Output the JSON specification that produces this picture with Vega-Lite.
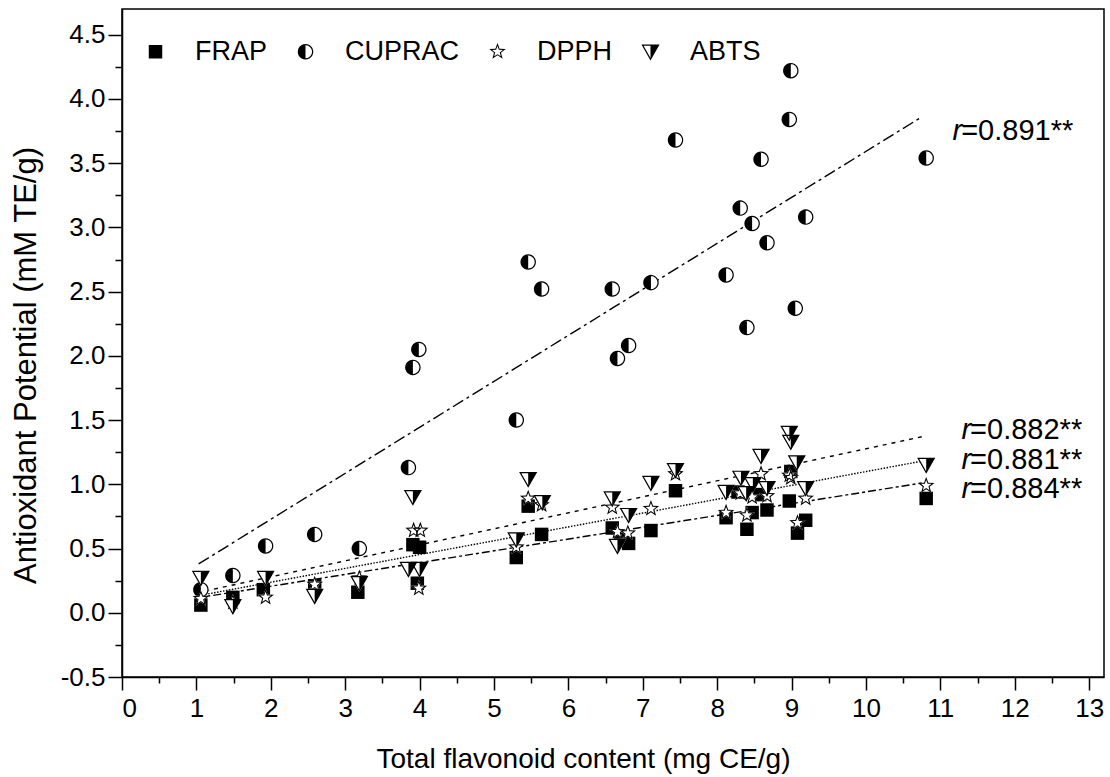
{
  "$schema": "https://vega.github.io/schema/vega-lite/v6.json",
  "width": 982,
  "height": 668,
  "autosize": {"type": "none"},
  "padding": {"left": 122, "top": 9, "right": 6, "bottom": 100},
  "background": "white",
  "config": {
    "view": {"stroke": "black", "strokeWidth": 1.5},
    "font": "Liberation Sans",
    "axis": {"grid": false, "domainColor": "black", "domainWidth": 1.5, "tickColor": "black", "tickWidth": 1.5, "labelColor": "black", "titleColor": "black", "labelFont": "Liberation Sans", "titleFont": "Liberation Sans", "titleFontWeight": "normal"},
    "legend": {"labelFontSize": 27, "labelFont": "Liberation Sans", "labelColor": "black", "symbolSize": 210, "symbolFillColor": "black", "symbolStrokeWidth": 0, "symbolOpacity": 1, "labelOffset": 26, "columnPadding": 24, "padding": 0, "labelLimit": 300}
  },
  "datasets": {
    "points": [
      {"series": "FRAP", "x": 1.06, "y": 0.06}, {"series": "FRAP", "x": 1.49, "y": 0.12}, {"series": "FRAP", "x": 1.90, "y": 0.18}, {"series": "FRAP", "x": 2.59, "y": 0.21}, {"series": "FRAP", "x": 3.17, "y": 0.16}, {"series": "FRAP", "x": 3.91, "y": 0.53}, {"series": "FRAP", "x": 4.00, "y": 0.51}, {"series": "FRAP", "x": 3.97, "y": 0.23}, {"series": "FRAP", "x": 5.30, "y": 0.43}, {"series": "FRAP", "x": 5.46, "y": 0.83}, {"series": "FRAP", "x": 5.64, "y": 0.61}, {"series": "FRAP", "x": 6.59, "y": 0.66}, {"series": "FRAP", "x": 6.70, "y": 0.57}, {"series": "FRAP", "x": 6.81, "y": 0.54}, {"series": "FRAP", "x": 7.11, "y": 0.64}, {"series": "FRAP", "x": 7.44, "y": 0.95}, {"series": "FRAP", "x": 8.12, "y": 0.74}, {"series": "FRAP", "x": 8.28, "y": 0.94}, {"series": "FRAP", "x": 8.40, "y": 0.65}, {"series": "FRAP", "x": 8.47, "y": 0.78}, {"series": "FRAP", "x": 8.57, "y": 0.92}, {"series": "FRAP", "x": 8.67, "y": 0.80}, {"series": "FRAP", "x": 8.97, "y": 0.87}, {"series": "FRAP", "x": 8.99, "y": 1.10}, {"series": "FRAP", "x": 9.08, "y": 0.62}, {"series": "FRAP", "x": 9.19, "y": 0.72}, {"series": "FRAP", "x": 10.81, "y": 0.89},
      {"series": "CUPRAC", "x": 1.06, "y": 0.18}, {"series": "CUPRAC", "x": 1.49, "y": 0.29}, {"series": "CUPRAC", "x": 1.93, "y": 0.52}, {"series": "CUPRAC", "x": 2.59, "y": 0.61}, {"series": "CUPRAC", "x": 3.19, "y": 0.50}, {"series": "CUPRAC", "x": 3.85, "y": 1.13}, {"series": "CUPRAC", "x": 3.91, "y": 1.91}, {"series": "CUPRAC", "x": 3.99, "y": 2.05}, {"series": "CUPRAC", "x": 5.30, "y": 1.50}, {"series": "CUPRAC", "x": 5.46, "y": 2.73}, {"series": "CUPRAC", "x": 5.64, "y": 2.52}, {"series": "CUPRAC", "x": 6.59, "y": 2.52}, {"series": "CUPRAC", "x": 6.66, "y": 1.98}, {"series": "CUPRAC", "x": 6.81, "y": 2.08}, {"series": "CUPRAC", "x": 7.11, "y": 2.57}, {"series": "CUPRAC", "x": 7.44, "y": 3.68}, {"series": "CUPRAC", "x": 8.12, "y": 2.63}, {"series": "CUPRAC", "x": 8.31, "y": 3.15}, {"series": "CUPRAC", "x": 8.40, "y": 2.22}, {"series": "CUPRAC", "x": 8.47, "y": 3.03}, {"series": "CUPRAC", "x": 8.59, "y": 3.53}, {"series": "CUPRAC", "x": 8.67, "y": 2.88}, {"series": "CUPRAC", "x": 8.97, "y": 3.84}, {"series": "CUPRAC", "x": 8.99, "y": 4.22}, {"series": "CUPRAC", "x": 9.05, "y": 2.37}, {"series": "CUPRAC", "x": 9.19, "y": 3.08}, {"series": "CUPRAC", "x": 10.81, "y": 3.54},
      {"series": "DPPH", "x": 1.06, "y": 0.11}, {"series": "DPPH", "x": 1.49, "y": 0.08}, {"series": "DPPH", "x": 1.93, "y": 0.12}, {"series": "DPPH", "x": 2.59, "y": 0.22}, {"series": "DPPH", "x": 3.19, "y": 0.27}, {"series": "DPPH", "x": 3.92, "y": 0.64}, {"series": "DPPH", "x": 4.01, "y": 0.64}, {"series": "DPPH", "x": 3.99, "y": 0.19}, {"series": "DPPH", "x": 5.30, "y": 0.51}, {"series": "DPPH", "x": 5.46, "y": 0.89}, {"series": "DPPH", "x": 5.64, "y": 0.84}, {"series": "DPPH", "x": 6.59, "y": 0.82}, {"series": "DPPH", "x": 6.66, "y": 0.63}, {"series": "DPPH", "x": 6.80, "y": 0.62}, {"series": "DPPH", "x": 7.11, "y": 0.81}, {"series": "DPPH", "x": 7.44, "y": 1.08}, {"series": "DPPH", "x": 8.12, "y": 0.78}, {"series": "DPPH", "x": 8.31, "y": 0.93}, {"series": "DPPH", "x": 8.40, "y": 0.76}, {"series": "DPPH", "x": 8.47, "y": 0.90}, {"series": "DPPH", "x": 8.59, "y": 1.08}, {"series": "DPPH", "x": 8.67, "y": 0.91}, {"series": "DPPH", "x": 8.97, "y": 1.07}, {"series": "DPPH", "x": 8.99, "y": 1.05}, {"series": "DPPH", "x": 9.08, "y": 0.70}, {"series": "DPPH", "x": 9.19, "y": 0.89}, {"series": "DPPH", "x": 10.81, "y": 0.99},
      {"series": "ABTS", "x": 1.06, "y": 0.27}, {"series": "ABTS", "x": 1.49, "y": 0.05}, {"series": "ABTS", "x": 1.93, "y": 0.27}, {"series": "ABTS", "x": 2.59, "y": 0.13}, {"series": "ABTS", "x": 3.19, "y": 0.23}, {"series": "ABTS", "x": 3.85, "y": 0.34}, {"series": "ABTS", "x": 3.91, "y": 0.90}, {"series": "ABTS", "x": 4.00, "y": 0.34}, {"series": "ABTS", "x": 5.30, "y": 0.57}, {"series": "ABTS", "x": 5.46, "y": 1.04}, {"series": "ABTS", "x": 5.65, "y": 0.86}, {"series": "ABTS", "x": 6.59, "y": 0.89}, {"series": "ABTS", "x": 6.66, "y": 0.52}, {"series": "ABTS", "x": 6.81, "y": 0.76}, {"series": "ABTS", "x": 7.11, "y": 1.01}, {"series": "ABTS", "x": 7.44, "y": 1.11}, {"series": "ABTS", "x": 8.12, "y": 0.94}, {"series": "ABTS", "x": 8.32, "y": 1.05}, {"series": "ABTS", "x": 8.39, "y": 0.93}, {"series": "ABTS", "x": 8.48, "y": 1.00}, {"series": "ABTS", "x": 8.59, "y": 1.22}, {"series": "ABTS", "x": 8.67, "y": 0.97}, {"series": "ABTS", "x": 8.97, "y": 1.40}, {"series": "ABTS", "x": 8.99, "y": 1.33}, {"series": "ABTS", "x": 9.07, "y": 1.17}, {"series": "ABTS", "x": 9.19, "y": 0.97}, {"series": "ABTS", "x": 10.81, "y": 1.15}
    ],
    "fits": [
      {"fit": "CUPRAC fit", "x": 1.03, "y": 0.38}, {"fit": "CUPRAC fit", "x": 10.75, "y": 3.86},
      {"fit": "ABTS fit", "x": 1.0, "y": 0.155}, {"fit": "ABTS fit", "x": 10.75, "y": 1.37},
      {"fit": "DPPH fit", "x": 1.0, "y": 0.13}, {"fit": "DPPH fit", "x": 10.75, "y": 1.18},
      {"fit": "FRAP fit", "x": 1.0, "y": 0.115}, {"fit": "FRAP fit", "x": 10.75, "y": 1.01}
    ],
    "labels": [
      {"x": 11.28, "y": 3.68, "text": "=0.891**"},
      {"x": 11.40, "y": 1.35, "text": "=0.882**"},
      {"x": 11.40, "y": 1.12, "text": "=0.881**"},
      {"x": 11.40, "y": 0.89, "text": "=0.884**"}
    ]
  },
  "resolve": {"axis": {"x": "independent", "y": "independent"}},
  "layer": [
    {
      "data": {"name": "fits"},
      "mark": {"type": "line", "color": "black", "strokeWidth": 1.4},
      "encoding": {
        "x": {"field": "x", "type": "quantitative", "scale": {"domain": [0, 13.2], "nice": false, "zero": false}, "axis": null},
        "y": {"field": "y", "type": "quantitative", "scale": {"domain": [-0.5, 4.7], "nice": false, "zero": false}, "axis": null},
        "strokeDash": {"field": "fit", "type": "nominal", "scale": {"domain": ["FRAP fit", "CUPRAC fit", "DPPH fit", "ABTS fit"], "range": [[8, 3, 3, 3], [12, 4, 3, 4], [1.5, 1.5], [4, 5]]}, "legend": null}
      }
    },
    {
      "data": {"name": "points"},
      "transform": [{"filter": "datum.series === 'FRAP'"}],
      "mark": {"type": "point", "filled": true, "fill": "black", "strokeWidth": 0, "size": 210, "opacity": 1},
      "encoding": {
        "x": {"field": "x", "type": "quantitative", "scale": {"domain": [0, 13.2], "nice": false, "zero": false},
          "axis": {"orient": "bottom", "values": [0, 1, 2, 3, 4, 5, 6, 7, 8, 9, 10, 11, 12, 13], "format": "d", "tickSize": 13, "labelFontSize": 26, "labelPadding": 5, "title": "Total flavonoid content (mg CE/g)", "titleFontSize": 28, "titleX": 461, "titleY": 82, "titleBaseline": "middle", "titleAlign": "center"}},
        "y": {"field": "y", "type": "quantitative", "scale": {"domain": [-0.5, 4.7], "nice": false, "zero": false},
          "axis": {"orient": "left", "values": [-0.5, 0, 0.5, 1, 1.5, 2, 2.5, 3, 3.5, 4, 4.5], "labelExpr": "datum.value < 0 ? '-' + format(-datum.value, '.1f') : format(datum.value, '.1f')", "tickSize": 14, "labelFontSize": 26, "labelPadding": 3, "title": "Antioxidant Potential (mM TE/g)", "titleFontSize": 31, "titleAngle": -90, "titleX": -96, "titleY": 356, "titleBaseline": "middle", "titleAlign": "center"}},
        "shape": {"field": "series", "type": "nominal",
          "scale": {"domain": ["FRAP", "CUPRAC", "DPPH", "ABTS"], "range": [
            "M-0.93,-0.93L0.93,-0.93L0.93,0.93L-0.93,0.93Z",
            "M1.07,0L1.034,0.277L0.927,0.535L0.757,0.757L0.535,0.927L0.277,1.034L0,1.07L-0.277,1.034L-0.535,0.927L-0.757,0.757L-0.927,0.535L-1.034,0.277L-1.07,0L-1.034,-0.277L-0.927,-0.535L-0.757,-0.757L-0.535,-0.927L-0.277,-1.034L0,-1.07L0.277,-1.034L0.535,-0.927L0.757,-0.757L0.927,-0.535L1.034,-0.277ZM0.9,0L0.869,-0.233L0.779,-0.45L0.636,-0.636L0.45,-0.779L0.233,-0.869L0,-0.9L-0.233,-0.869L-0.45,-0.779L-0.636,-0.636L-0.779,-0.45L-0.869,-0.233L-0.9,0L-0.869,0.233L-0.779,0.45L-0.636,0.636L-0.45,0.779L-0.233,0.869L0,0.9L0.233,0.869L0.45,0.779L0.636,0.636L0.779,0.45L0.869,0.233ZM0,1.07L-0.277,1.034L-0.535,0.927L-0.757,0.757L-0.927,0.535L-1.034,0.277L-1.07,0L-1.034,-0.277L-0.927,-0.535L-0.757,-0.757L-0.535,-0.927L-0.277,-1.034L0,-1.07Z",
            "M0,-1.2L0.294,-0.405L1.141,-0.371L0.476,0.155L0.705,0.971L0,0.5L-0.705,0.971L-0.476,0.155L-1.141,-0.371L-0.294,-0.405ZM0,-0.78L-0.194,-0.267L-0.742,-0.241L-0.314,0.102L-0.458,0.631L0,0.33L0.458,0.631L0.314,0.102L0.742,-0.241L0.194,-0.267Z",
            "M-1.25,-1L1.25,-1L0,1.2ZM-0.958,-0.83L0,0.856L0.958,-0.83ZM0,-1L1.25,-1L0,1.2Z"]},
          "legend": {"orient": "none", "legendX": 20, "legendY": 29, "direction": "horizontal", "title": null}}
      }
    },
    {
      "data": {"name": "points"},
      "transform": [{"filter": "datum.series === 'CUPRAC'"}],
      "mark": {"type": "point", "shape": "M1.07,0L1.034,0.277L0.927,0.535L0.757,0.757L0.535,0.927L0.277,1.034L0,1.07L-0.277,1.034L-0.535,0.927L-0.757,0.757L-0.927,0.535L-1.034,0.277L-1.07,0L-1.034,-0.277L-0.927,-0.535L-0.757,-0.757L-0.535,-0.927L-0.277,-1.034L0,-1.07L0.277,-1.034L0.535,-0.927L0.757,-0.757L0.927,-0.535L1.034,-0.277Z", "filled": true, "fill": "white", "strokeWidth": 0, "size": 210, "opacity": 1},
      "encoding": {
        "x": {"field": "x", "type": "quantitative", "scale": {"domain": [0, 13.2], "nice": false, "zero": false},
          "axis": {"orient": "bottom", "values": [0.5, 1.5, 2.5, 3.5, 4.5, 5.5, 6.5, 7.5, 8.5, 9.5, 10.5, 11.5, 12.5], "tickSize": 6, "labels": false, "domain": false, "title": null}},
        "y": {"field": "y", "type": "quantitative", "scale": {"domain": [-0.5, 4.7], "nice": false, "zero": false},
          "axis": {"orient": "left", "values": [-0.25, 0.25, 0.75, 1.25, 1.75, 2.25, 2.75, 3.25, 3.75, 4.25], "tickSize": 7, "labels": false, "domain": false, "title": null}}
      }
    },
    {
      "data": {"name": "points"},
      "transform": [{"filter": "datum.series === 'CUPRAC'"}],
      "mark": {"type": "point", "filled": true, "fill": "black", "strokeWidth": 0, "size": 210, "opacity": 1},
      "encoding": {
        "x": {"field": "x", "type": "quantitative", "scale": {"domain": [0, 13.2], "nice": false, "zero": false}, "axis": null},
        "y": {"field": "y", "type": "quantitative", "scale": {"domain": [-0.5, 4.7], "nice": false, "zero": false}, "axis": null},
        "shape": {"field": "series", "type": "nominal"}
      }
    },
    {
      "data": {"name": "points"},
      "transform": [{"filter": "datum.series === 'DPPH'"}],
      "mark": {"type": "point", "shape": "M0,-1.2L0.294,-0.405L1.141,-0.371L0.476,0.155L0.705,0.971L0,0.5L-0.705,0.971L-0.476,0.155L-1.141,-0.371L-0.294,-0.405Z", "filled": true, "fill": "white", "strokeWidth": 0, "size": 210, "opacity": 1},
      "encoding": {
        "x": {"field": "x", "type": "quantitative", "scale": {"domain": [0, 13.2], "nice": false, "zero": false}, "axis": null},
        "y": {"field": "y", "type": "quantitative", "scale": {"domain": [-0.5, 4.7], "nice": false, "zero": false}, "axis": null}
      }
    },
    {
      "data": {"name": "points"},
      "transform": [{"filter": "datum.series === 'DPPH'"}],
      "mark": {"type": "point", "filled": true, "fill": "black", "strokeWidth": 0, "size": 210, "opacity": 1},
      "encoding": {
        "x": {"field": "x", "type": "quantitative", "scale": {"domain": [0, 13.2], "nice": false, "zero": false}, "axis": null},
        "y": {"field": "y", "type": "quantitative", "scale": {"domain": [-0.5, 4.7], "nice": false, "zero": false}, "axis": null},
        "shape": {"field": "series", "type": "nominal"}
      }
    },
    {
      "data": {"name": "points"},
      "transform": [{"filter": "datum.series === 'ABTS'"}],
      "mark": {"type": "point", "shape": "M-1.25,-1L1.25,-1L0,1.2Z", "filled": true, "fill": "white", "strokeWidth": 0, "size": 210, "opacity": 1},
      "encoding": {
        "x": {"field": "x", "type": "quantitative", "scale": {"domain": [0, 13.2], "nice": false, "zero": false}, "axis": null},
        "y": {"field": "y", "type": "quantitative", "scale": {"domain": [-0.5, 4.7], "nice": false, "zero": false}, "axis": null}
      }
    },
    {
      "data": {"name": "points"},
      "transform": [{"filter": "datum.series === 'ABTS'"}],
      "mark": {"type": "point", "filled": true, "fill": "black", "strokeWidth": 0, "size": 210, "opacity": 1},
      "encoding": {
        "x": {"field": "x", "type": "quantitative", "scale": {"domain": [0, 13.2], "nice": false, "zero": false}, "axis": null},
        "y": {"field": "y", "type": "quantitative", "scale": {"domain": [-0.5, 4.7], "nice": false, "zero": false}, "axis": null},
        "shape": {"field": "series", "type": "nominal"}
      }
    },
    {
      "data": {"name": "labels"},
      "mark": {"type": "text", "align": "right", "baseline": "alphabetic", "fontStyle": "italic", "fontSize": 29, "font": "Liberation Sans", "color": "black", "dx": 1},
      "encoding": {
        "x": {"field": "x", "type": "quantitative", "scale": {"domain": [0, 13.2], "nice": false, "zero": false}, "axis": null},
        "y": {"field": "y", "type": "quantitative", "scale": {"domain": [-0.5, 4.7], "nice": false, "zero": false}, "axis": null},
        "text": {"value": "r"}
      }
    },
    {
      "data": {"name": "labels"},
      "mark": {"type": "text", "align": "left", "baseline": "alphabetic", "fontSize": 29, "font": "Liberation Sans", "color": "black"},
      "encoding": {
        "x": {"field": "x", "type": "quantitative", "scale": {"domain": [0, 13.2], "nice": false, "zero": false}, "axis": null},
        "y": {"field": "y", "type": "quantitative", "scale": {"domain": [-0.5, 4.7], "nice": false, "zero": false}, "axis": null},
        "text": {"field": "text", "type": "nominal"}
      }
    }
  ]
}
